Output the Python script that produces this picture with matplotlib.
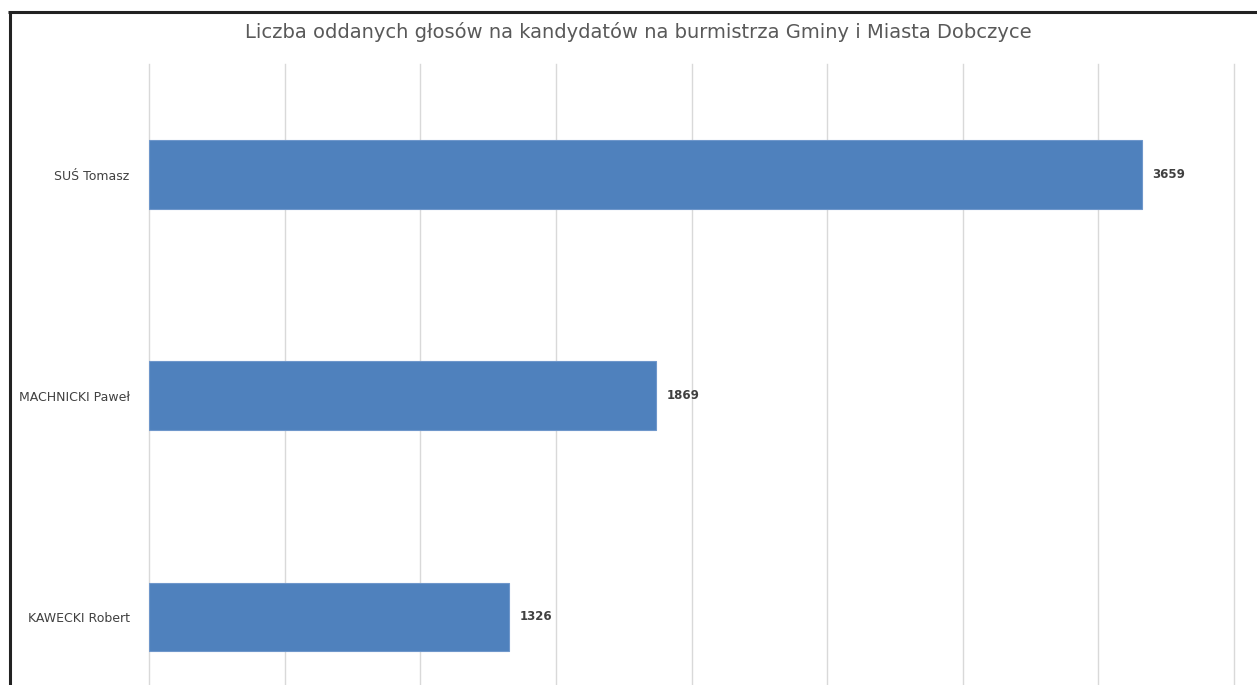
import matplotlib
matplotlib.use("Agg")
import matplotlib.pyplot as plt
from matplotlib.lines import Line2D

# data
candidates = ["SUŚ Tomasz", "MACHNICKI Paweł", "KAWECKI Robert"]
votes = [3659, 1869, 1326]
title = "Liczba oddanych głosów na kandydatów na burmistrza Gminy i Miasta Dobczyce"

W, H = 1257, 685
fig = plt.figure(figsize=(W / 100, H / 100), dpi=100)
fig.patch.set_facecolor("white")

# plot area: runs off the bottom of the picture like in the scan
left, right = 149, 1234
top, bottom = 64, 727.5
ax = fig.add_axes([left / W, 1 - bottom / H, (right - left) / W, (bottom - top) / H])

y = list(range(len(candidates)))
ax.barh(y, votes, height=0.31, color="#4f81bd", edgecolor="#6f97cb", linewidth=0.8, zorder=3)
ax.set_xlim(0, 4000)
ax.set_ylim(len(candidates) - 0.5, -0.5)
ax.set_xticks(range(0, 4001, 500))
ax.grid(axis="x", color="#d9d9d9", linewidth=1.0, zorder=0)
for gl in ax.get_xgridlines():
    gl.set_clip_on(False)
ax.tick_params(length=0)
ax.set_xticklabels([])
ax.set_yticks(y)
ax.set_yticklabels(candidates, fontsize=9, color="#404040")
ax.tick_params(axis="y", pad=14)
for s in ax.spines.values():
    s.set_visible(False)

for yi, v in zip(y, votes):
    ax.text(v + 40, yi, str(v), va="center", ha="left", fontsize=8.5,
            fontweight="bold", color="#404040")

fig.text(638 / W, 1 - 32 / H, title, ha="center", va="center", fontsize=14, color="#595959")

# frame of the scanned page
fig.add_artist(Line2D([8 / W, 1], [1 - 11.5 / H] * 2, transform=fig.transFigure,
                      color="#222222", linewidth=2.2, solid_capstyle="butt"))
fig.add_artist(Line2D([9.5 / W] * 2, [0, 1 - 10.5 / H], transform=fig.transFigure,
                      color="#222222", linewidth=2.2, solid_capstyle="butt"))

fig.savefig("out.png", dpi=100)
